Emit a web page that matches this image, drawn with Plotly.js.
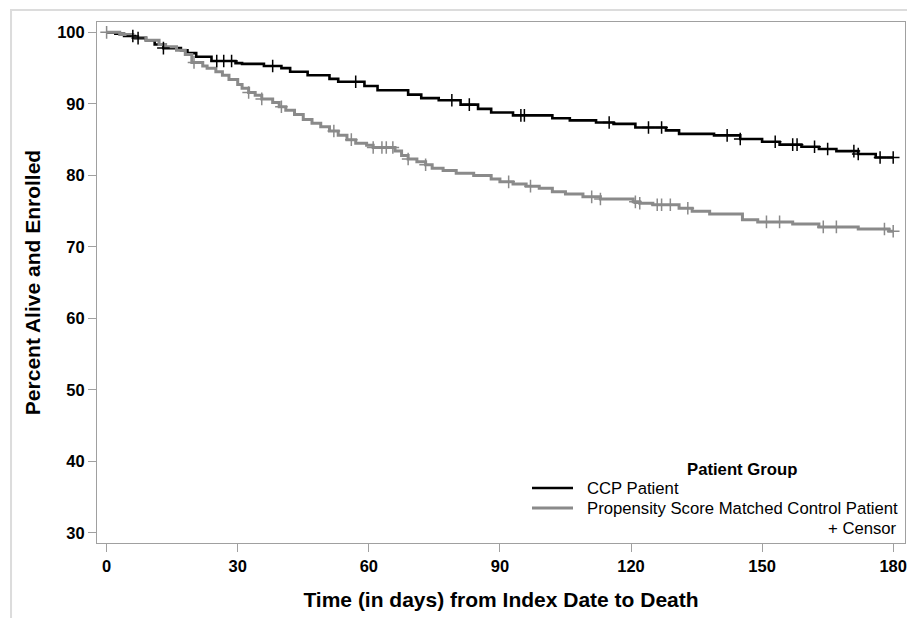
<!DOCTYPE html>
<html><head><meta charset="utf-8">
<script src="https://cdn.plot.ly/plotly-3.0.1.min.js"></script>
<style>html,body{margin:0;padding:0;background:#fff}#chart{width:907px;height:618px}</style>
</head><body><div id="chart"></div>
<script>
// CCP Patient Kaplan-Meier steps (day, percent)
const ccpDays = [0, 2, 4, 6.5, 9, 11, 13, 17, 18.5, 20.5, 24, 29.5, 31, 36, 40, 42, 46, 51, 53, 59, 62, 69, 72, 76, 81, 85, 88, 93, 102, 106, 112, 116, 121, 128, 131, 139, 145, 150, 154, 159, 163, 167, 172, 176, 180];
const ccpSurv = [100, 99.8, 99.5, 99.2, 98.9, 98.3, 97.8, 97.5, 97.1, 96.6, 96.0, 95.7, 95.6, 95.3, 95.0, 94.5, 94.0, 93.5, 93.1, 92.5, 91.9, 91.3, 90.8, 90.5, 89.9, 89.3, 88.8, 88.4, 88.0, 87.7, 87.4, 87.2, 86.7, 86.3, 85.8, 85.6, 85.1, 84.7, 84.3, 84.0, 83.7, 83.4, 83.0, 82.5, 82.5];
const ccpCensorDays = [6, 7.2, 13, 25.2, 26.8, 28.6, 38, 57, 79, 83, 94.8, 95.6, 115, 124, 127, 142, 145, 153, 157, 158, 162, 165, 171, 172, 177, 180];

// Propensity Score Matched Control Patient
const ctrlDays = [0, 3, 6, 9, 12, 13.5, 16, 18, 19.5, 22, 23, 25, 26.5, 28, 30, 31, 32.5, 34, 35.5, 38, 39.5, 41, 43, 45, 47, 49, 51, 53, 55, 57, 59.5, 61, 66, 67.5, 69, 71, 73, 74.5, 77, 80, 84, 88, 90, 93, 96, 99, 102, 105, 109, 113, 120.5, 122, 125, 131, 134, 138, 145.5, 149, 157, 163, 172, 179, 180];
const ctrlSurv = [100, 99.7, 99.3, 98.9, 98.3, 98.0, 97.5, 96.9, 95.8, 95.3, 95.0, 94.5, 94.0, 93.4, 92.7, 92.2, 91.6, 91.2, 90.7, 90.2, 89.6, 89.1, 88.5, 87.8, 87.3, 86.8, 86.2, 85.6, 85.0, 84.5, 84.2, 83.9, 83.4, 82.8, 82.3, 81.9, 81.5, 81.0, 80.7, 80.3, 80.0, 79.5, 79.1, 78.8, 78.5, 78.2, 77.7, 77.4, 77.0, 76.7, 76.3, 76.1, 75.9, 75.4, 75.0, 74.6, 73.8, 73.5, 73.2, 72.8, 72.5, 72.2, 72.2];
const ctrlCensorDays = [0, 20, 32.5, 35.5, 40, 52, 56, 61, 63, 64, 65.5, 69, 73, 92, 97, 111, 113, 121, 122, 126, 127, 129, 133, 151, 154, 164, 167, 178, 180];

const seriesNames = ['CCP Patient', 'Propensity Score Matched Control Patient'];
const legendTitle = 'Patient Group';
const censorLabel = '+ Censor';
const xTicks = [0, 30, 60, 90, 120, 150, 180];
const yTicks = [30, 40, 50, 60, 70, 80, 90, 100];

function stepAt(days, surv, t) {
  let v = surv[0];
  for (let i = 0; i < days.length; i++) { if (days[i] <= t) v = surv[i]; }
  return v;
}

const FONT = 'Liberation Sans, Arial, sans-serif';
const cBlack = '#000000';
const cGray = '#8a8a8a';
const colors = [cBlack, cGray];

const traces = [
  {x: ccpDays, y: ccpSurv, type: 'scatter', mode: 'lines', line: {shape: 'hv', color: cBlack, width: 2.6}, name: seriesNames[0], hoverinfo: 'skip'},
  {x: ctrlDays, y: ctrlSurv, type: 'scatter', mode: 'lines', line: {shape: 'hv', color: cGray, width: 3}, name: seriesNames[1], hoverinfo: 'skip'},
  {x: ctrlCensorDays, y: ctrlCensorDays.map(t => stepAt(ctrlDays, ctrlSurv, t)), type: 'scatter', mode: 'markers',
   marker: {symbol: 'cross-thin', size: 9, line: {color: cGray, width: 1.5}}, hoverinfo: 'skip'},
  {x: ccpCensorDays, y: ccpCensorDays.map(t => stepAt(ccpDays, ccpSurv, t)), type: 'scatter', mode: 'markers',
   marker: {symbol: 'cross-thin', size: 9, line: {color: cBlack, width: 1.5}}, hoverinfo: 'skip'}
];

const axisCommon = {
  showgrid: false, zeroline: false, showline: true, mirror: true, linecolor: '#a0a0a0', linewidth: 1,
  ticks: 'outside', ticklen: 8, tickcolor: '#a0a0a0', tickwidth: 1,
  tickfont: {family: FONT, size: 16.5, color: '#000', weight: 'bold'}
};

// legend geometry (pixel positions converted to paper fractions)
const PL = 97, PW = 808, PB = 543, PH = 521;
const px = v => (v - PL) / PW;
const py = v => (PB - v) / PH;
const rowY = [488, 508];

const legendShapes = rowY.map((yy, i) => ({
  type: 'line', xref: 'paper', yref: 'paper', x0: px(532), x1: px(573), y0: py(yy), y1: py(yy),
  line: {color: colors[i], width: i === 0 ? 2.6 : 3}
}));
const legendTexts = rowY.map((yy, i) => ({
  text: seriesNames[i], xref: 'paper', yref: 'paper', x: px(585), y: py(yy), xanchor: 'left', yanchor: 'middle',
  showarrow: false, font: {family: FONT, size: 16.7, color: '#000'}
}));

const layout = {
  width: 907, height: 618,
  margin: {l: 97, r: 2, t: 22, b: 75},
  paper_bgcolor: '#fff', plot_bgcolor: '#fff',
  font: {family: FONT, color: '#000'},
  showlegend: false,
  xaxis: Object.assign({}, axisCommon, {
    range: [-2.2, 182.7], tickvals: xTicks, ticktext: xTicks.map(String),
    title: {text: 'Time (in days) from Index Date to Death', font: {family: FONT, size: 21, weight: 'bold', color: '#000'}, standoff: 18}
  }),
  yaxis: Object.assign({}, axisCommon, {
    range: [28.6, 101.45], tickvals: yTicks, ticktext: yTicks.map(String),
    title: {text: 'Percent Alive and Enrolled', font: {family: FONT, size: 21, weight: 'bold', color: '#000'}, standoff: 10}
  }),
  annotations: [
    {text: legendTitle, xref: 'paper', yref: 'paper', x: px(742), y: py(469), xanchor: 'center', yanchor: 'middle', showarrow: false,
     font: {family: FONT, size: 16.7, weight: 'bold', color: '#000'}},
    {text: censorLabel, xref: 'paper', yref: 'paper', x: px(899), y: py(528), xanchor: 'right', yanchor: 'middle', showarrow: false,
     font: {family: FONT, size: 16.7, color: '#000'}}
  ].concat(legendTexts),
  shapes: [
    {type: 'rect', xref: 'paper', yref: 'paper', x0: -0.1064, x1: 1.1, y0: -0.4, y1: 1.023, line: {color: '#dcdcdc', width: 2}, layer: 'below'}
  ].concat(legendShapes)
};

Plotly.newPlot('chart', traces, layout, {staticPlot: true, displayModeBar: false});
</script>
</body></html>
